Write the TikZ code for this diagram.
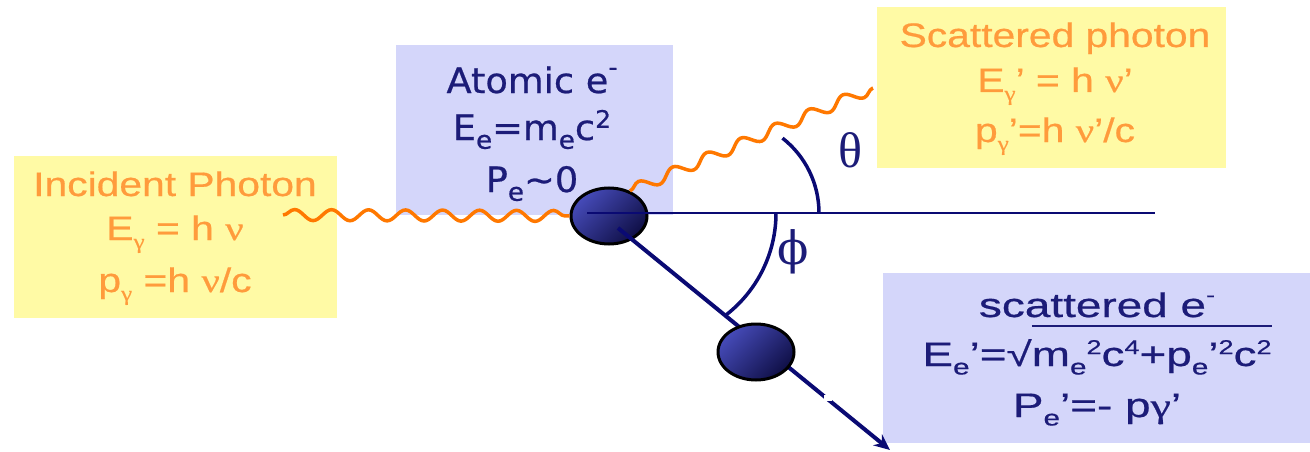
\documentclass[tikz,border=0pt]{standalone}
\usepackage{fontspec}
\setmainfont{Liberation Sans}
\newfontfamily\ofont[FakeStretch=1.2,FakeBold=0.6]{Liberation Sans}
\newfontfamily\ogrk[FakeStretch=1.2,FakeBold=0.6]{Liberation Serif}
\newfontfamily\afont[FakeStretch=1.05,FakeBold=0.6]{DejaVu Sans}
\newfontfamily\sfont[FakeStretch=1.35,FakeBold=0.6]{Liberation Sans}
\newfontfamily\sgrk[FakeStretch=1.35,FakeBold=0.6]{Liberation Serif}
\newfontfamily\thfont{Liberation Serif}
\newfontfamily\phfont{DejaVu Serif}
\usetikzlibrary{decorations.pathmorphing,arrows.meta,shapes.geometric}
\definecolor{yfill}{RGB}{255,250,165}
\definecolor{lfill}{RGB}{212,214,250}
\definecolor{otext}{RGB}{255,155,60}
\definecolor{wave}{RGB}{255,120,0}
\definecolor{navytext}{RGB}{28,28,120}
\definecolor{navyline}{RGB}{10,10,115}
\definecolor{elight}{RGB}{70,75,185}
\definecolor{edark}{RGB}{15,15,70}
\newcommand\lo[2]{\raisebox{-0.25em}{\fontsize{#1}{#1}\selectfont #2}}
\newcommand\hi[2]{\raisebox{0.35em}{\fontsize{#1}{#1}\selectfont #2}}
\newsavebox\radbox
\newcommand\radic[1]{\sbox\radbox{#1}\rlap{\rule[1.15em]{\wd\radbox}{1.8pt}}\usebox\radbox}
\tikzset{
  boxnode/.style={inner sep=0, outer sep=0, draw=none},
  ybox/.style={boxnode, fill=yfill},
  lbox/.style={boxnode, fill=lfill},
  otxt/.style={anchor=base, inner sep=0, text=otext, font=\ofont\fontsize{34}{40}\selectfont},
  atxt/.style={anchor=base, inner sep=0, text=navytext, font=\afont\fontsize{35}{40}\selectfont},
  stxt/.style={anchor=base, inner sep=0, text=navytext, font=\sfont\fontsize{34}{40}\selectfont},
  photon/.style={draw=wave, line width=3.5pt, decorate, decoration={snake, segment length=37pt, amplitude=5.5pt}},
  electron/.style={ellipse, draw=black, line width=3pt, minimum width=76pt, minimum height=56pt,
     top color=elight, bottom color=edark, shading angle=45},
  axisline/.style={draw=navyline, line width=2pt},
  track/.style={draw=navyline, line width=4pt},
  anglearc/.style={draw=navyline, line width=3.5pt},
  anglelbl/.style={text=navytext, inner sep=0}
}
\begin{document}
\begin{tikzpicture}[x=1pt,y=-1pt]
\useasboundingbox (0,0) rectangle (1310,452);
% boxes
\node[ybox, minimum width=323pt, minimum height=162pt] (incbox) at (175.5,237) {};
\node[lbox, minimum width=277pt, minimum height=170pt] (atombox) at (534.5,130) {};
\node[ybox, minimum width=349pt, minimum height=161pt] (scphbox) at (1051.5,87.5) {};
\node[lbox, minimum width=427pt, minimum height=170pt] (scebox) at (1096.5,358) {};
% texts
\node[otxt] (inc1) at (175,196) {Incident Photon};
\node[otxt] (inc2) at (175,240) {E\lo{21}{\ogrk γ} = h {\ogrk ν}};
\node[otxt] (inc3) at (175,292) {p\lo{21}{\ogrk γ} =h {\ogrk ν}/c};
\node[atxt] (at1) at (532,93) {Atomic e\raisebox{0.5em}{\fontsize{24}{24}\selectfont -}};
\node[atxt] (at2) at (532,140) {E\lo{25}{e}=m\lo{25}{e}c\hi{24}{2}};
\node[atxt] (at3) at (532,192) {P\lo{25}{e}\textasciitilde 0};
\node[otxt] (sp1) at (1055,47) {Scattered photon};
\node[otxt] (sp2) at (1055,92) {E\lo{21}{\ogrk γ}’ = h {\ogrk ν}’};
\node[otxt] (sp3) at (1055,142) {p\lo{21}{\ogrk γ}’=h {\ogrk ν}’/c};
\node[stxt] (se1) at (1097,317) {scattered e\raisebox{0.45em}{\fontsize{20}{20}\selectfont -}};
\node[stxt] (se2) at (1097,366) {E\lo{22}{e}’=√\radic{m\lo{22}{e}\hi{20}{2}c\hi{20}{4}+p\lo{22}{e}’\hi{20}{2}c\hi{20}{2}}};
\node[stxt] (se3) at (1097,417) {P\lo{22}{e}’=- p{\sgrk γ}’};
% electron 1 and photons
\coordinate (inc0) at (283,215);
\coordinate (scph1) at (873,88);
\node[electron] (e1) at (609,216) {};
\draw[photon] (inc0) -- (e1.west);
\draw[photon] (e1.50) -- (scph1);
% axis and track
\coordinate (h0) at (587,213);
\coordinate (h1) at (1155,213);
\draw[axisline] (h0) -- (h1);
\coordinate (d0) at (618,228);
\coordinate (tip) at (890,450);
\draw[track, -{Stealth[length=16pt,width=14pt]}] (d0) -- (tip);
\node[electron] (e2) at (756,352) {};
\fill[white] (824,395) rectangle (832,401);
% angles
\coordinate (th0) at (819,213);
\draw[anglearc] (th0) arc[start angle=0, end angle=-52, radius=95];
\coordinate (ph0) at (776,213);
\draw[anglearc] (ph0) arc[start angle=0, end angle=52, radius=129];
\node[anglelbl, font=\thfont\fontsize{50}{50}\selectfont] (theta) at (850,150) {θ};
\node[anglelbl, font=\phfont\fontsize{46}{46}\selectfont] (phi) at (793,252) {ϕ};
\end{tikzpicture}
\end{document}
